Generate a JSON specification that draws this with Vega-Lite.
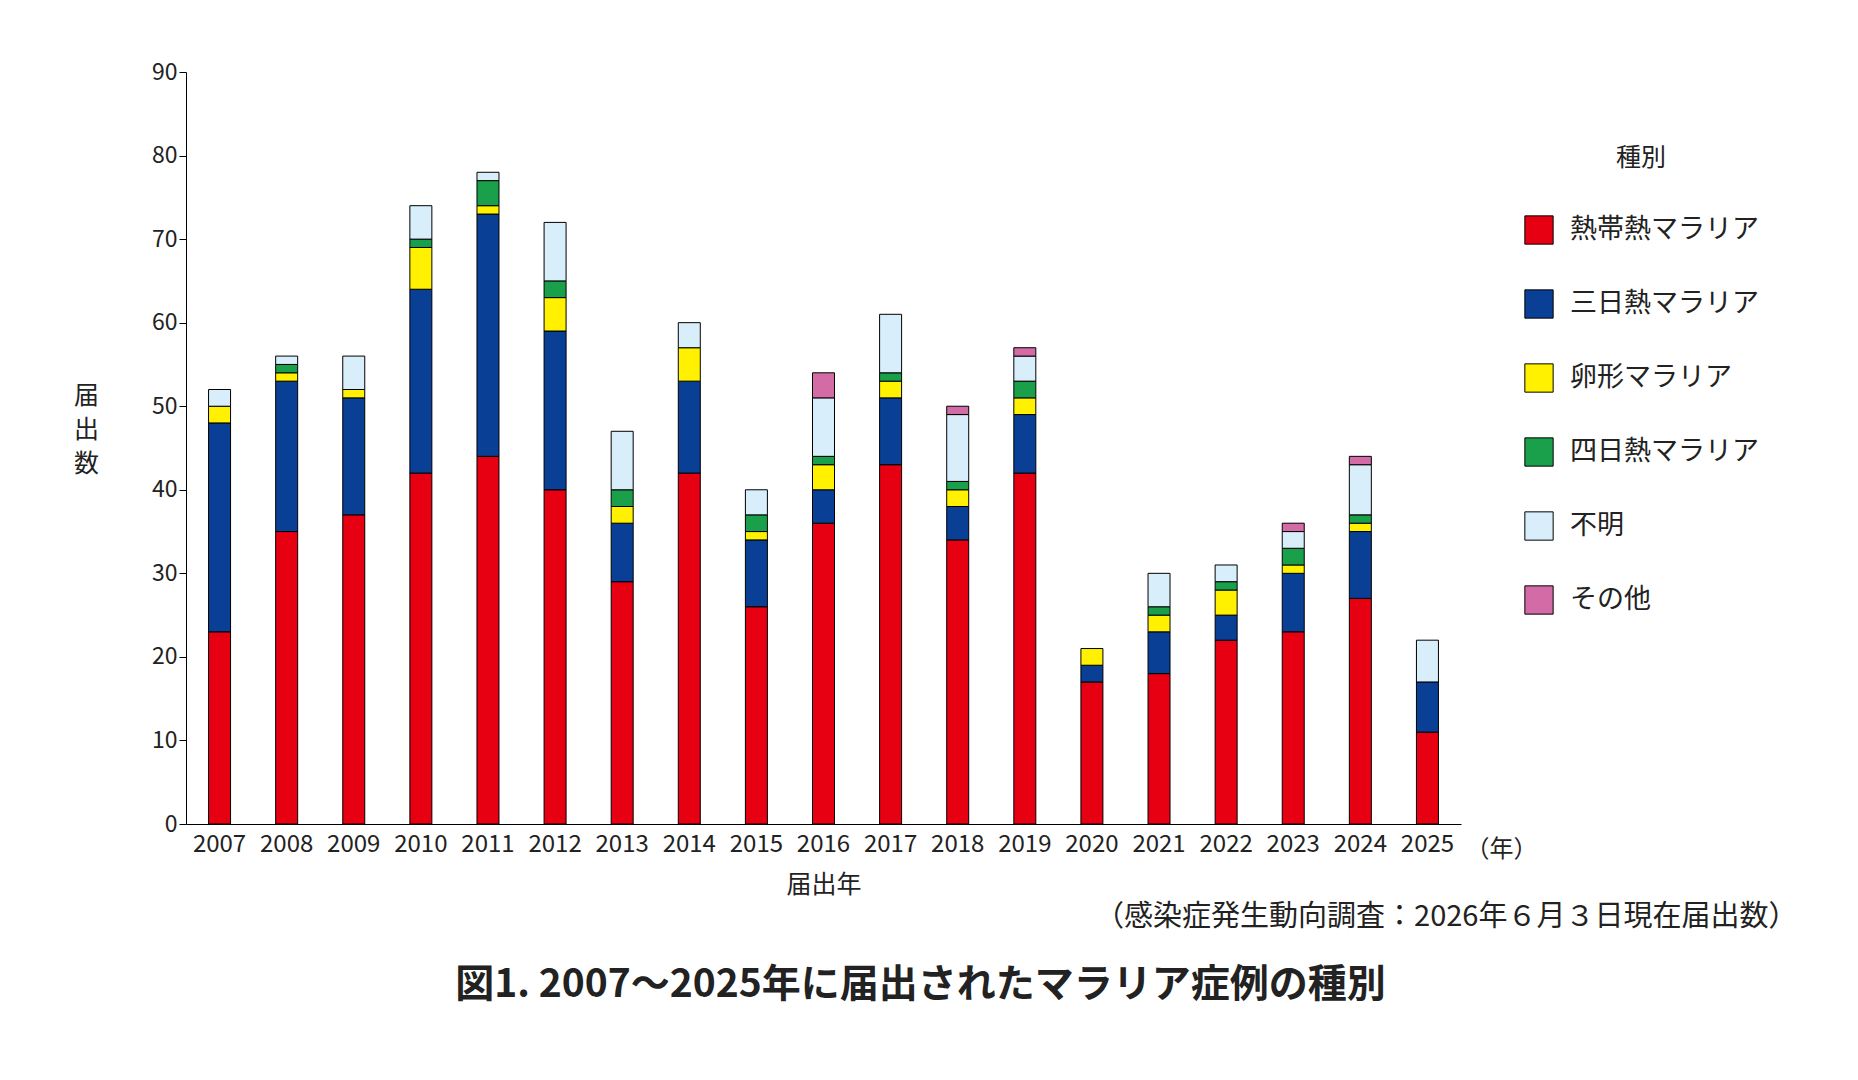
{
"$schema":"https://vega.github.io/schema/vega-lite/v6.json",
"autosize":{"type":"none"},
"padding":{"left":186,"top":72,"right":397,"bottom":256},
"width":1275,"height":752,
"background":"white",
"config":{"font":"Noto Sans CJK JP","view":{"stroke":null}},
"title":{"text":"図1. 2007～2025年に届出されたマラリア症例の種別","orient":"bottom","anchor":"middle","fontSize":39,"fontWeight":"bold","offset":34,"dx":97,"color":"#222"},
"datasets":{"d":[
{"y":"2007","t":"熱帯熱マラリア","k":1,"v":23},{"y":"2007","t":"三日熱マラリア","k":2,"v":25},{"y":"2007","t":"卵形マラリア","k":3,"v":2},{"y":"2007","t":"不明","k":5,"v":2},
{"y":"2008","t":"熱帯熱マラリア","k":1,"v":35},{"y":"2008","t":"三日熱マラリア","k":2,"v":18},{"y":"2008","t":"卵形マラリア","k":3,"v":1},{"y":"2008","t":"四日熱マラリア","k":4,"v":1},{"y":"2008","t":"不明","k":5,"v":1},
{"y":"2009","t":"熱帯熱マラリア","k":1,"v":37},{"y":"2009","t":"三日熱マラリア","k":2,"v":14},{"y":"2009","t":"卵形マラリア","k":3,"v":1},{"y":"2009","t":"不明","k":5,"v":4},
{"y":"2010","t":"熱帯熱マラリア","k":1,"v":42},{"y":"2010","t":"三日熱マラリア","k":2,"v":22},{"y":"2010","t":"卵形マラリア","k":3,"v":5},{"y":"2010","t":"四日熱マラリア","k":4,"v":1},{"y":"2010","t":"不明","k":5,"v":4},
{"y":"2011","t":"熱帯熱マラリア","k":1,"v":44},{"y":"2011","t":"三日熱マラリア","k":2,"v":29},{"y":"2011","t":"卵形マラリア","k":3,"v":1},{"y":"2011","t":"四日熱マラリア","k":4,"v":3},{"y":"2011","t":"不明","k":5,"v":1},
{"y":"2012","t":"熱帯熱マラリア","k":1,"v":40},{"y":"2012","t":"三日熱マラリア","k":2,"v":19},{"y":"2012","t":"卵形マラリア","k":3,"v":4},{"y":"2012","t":"四日熱マラリア","k":4,"v":2},{"y":"2012","t":"不明","k":5,"v":7},
{"y":"2013","t":"熱帯熱マラリア","k":1,"v":29},{"y":"2013","t":"三日熱マラリア","k":2,"v":7},{"y":"2013","t":"卵形マラリア","k":3,"v":2},{"y":"2013","t":"四日熱マラリア","k":4,"v":2},{"y":"2013","t":"不明","k":5,"v":7},
{"y":"2014","t":"熱帯熱マラリア","k":1,"v":42},{"y":"2014","t":"三日熱マラリア","k":2,"v":11},{"y":"2014","t":"卵形マラリア","k":3,"v":4},{"y":"2014","t":"不明","k":5,"v":3},
{"y":"2015","t":"熱帯熱マラリア","k":1,"v":26},{"y":"2015","t":"三日熱マラリア","k":2,"v":8},{"y":"2015","t":"卵形マラリア","k":3,"v":1},{"y":"2015","t":"四日熱マラリア","k":4,"v":2},{"y":"2015","t":"不明","k":5,"v":3},
{"y":"2016","t":"熱帯熱マラリア","k":1,"v":36},{"y":"2016","t":"三日熱マラリア","k":2,"v":4},{"y":"2016","t":"卵形マラリア","k":3,"v":3},{"y":"2016","t":"四日熱マラリア","k":4,"v":1},{"y":"2016","t":"不明","k":5,"v":7},{"y":"2016","t":"その他","k":6,"v":3},
{"y":"2017","t":"熱帯熱マラリア","k":1,"v":43},{"y":"2017","t":"三日熱マラリア","k":2,"v":8},{"y":"2017","t":"卵形マラリア","k":3,"v":2},{"y":"2017","t":"四日熱マラリア","k":4,"v":1},{"y":"2017","t":"不明","k":5,"v":7},
{"y":"2018","t":"熱帯熱マラリア","k":1,"v":34},{"y":"2018","t":"三日熱マラリア","k":2,"v":4},{"y":"2018","t":"卵形マラリア","k":3,"v":2},{"y":"2018","t":"四日熱マラリア","k":4,"v":1},{"y":"2018","t":"不明","k":5,"v":8},{"y":"2018","t":"その他","k":6,"v":1},
{"y":"2019","t":"熱帯熱マラリア","k":1,"v":42},{"y":"2019","t":"三日熱マラリア","k":2,"v":7},{"y":"2019","t":"卵形マラリア","k":3,"v":2},{"y":"2019","t":"四日熱マラリア","k":4,"v":2},{"y":"2019","t":"不明","k":5,"v":3},{"y":"2019","t":"その他","k":6,"v":1},
{"y":"2020","t":"熱帯熱マラリア","k":1,"v":17},{"y":"2020","t":"三日熱マラリア","k":2,"v":2},{"y":"2020","t":"卵形マラリア","k":3,"v":2},
{"y":"2021","t":"熱帯熱マラリア","k":1,"v":18},{"y":"2021","t":"三日熱マラリア","k":2,"v":5},{"y":"2021","t":"卵形マラリア","k":3,"v":2},{"y":"2021","t":"四日熱マラリア","k":4,"v":1},{"y":"2021","t":"不明","k":5,"v":4},
{"y":"2022","t":"熱帯熱マラリア","k":1,"v":22},{"y":"2022","t":"三日熱マラリア","k":2,"v":3},{"y":"2022","t":"卵形マラリア","k":3,"v":3},{"y":"2022","t":"四日熱マラリア","k":4,"v":1},{"y":"2022","t":"不明","k":5,"v":2},
{"y":"2023","t":"熱帯熱マラリア","k":1,"v":23},{"y":"2023","t":"三日熱マラリア","k":2,"v":7},{"y":"2023","t":"卵形マラリア","k":3,"v":1},{"y":"2023","t":"四日熱マラリア","k":4,"v":2},{"y":"2023","t":"不明","k":5,"v":2},{"y":"2023","t":"その他","k":6,"v":1},
{"y":"2024","t":"熱帯熱マラリア","k":1,"v":27},{"y":"2024","t":"三日熱マラリア","k":2,"v":8},{"y":"2024","t":"卵形マラリア","k":3,"v":1},{"y":"2024","t":"四日熱マラリア","k":4,"v":1},{"y":"2024","t":"不明","k":5,"v":6},{"y":"2024","t":"その他","k":6,"v":1},
{"y":"2025","t":"熱帯熱マラリア","k":1,"v":11},{"y":"2025","t":"三日熱マラリア","k":2,"v":6},{"y":"2025","t":"不明","k":5,"v":5}
]},
"layer":[
{"data":{"name":"d"},"mark":{"type":"bar","width":22,"stroke":"black","strokeWidth":1},
"encoding":{
"x":{"field":"y","type":"ordinal","title":"届出年","scale":{"paddingInner":0.5,"paddingOuter":0.25},
"axis":{"labelAngle":0,"labelFontSize":24,"labelColor":"#222","titleFontSize":25,"titleFontWeight":"normal","titleColor":"#222","ticks":false,"domainColor":"black","labelPadding":8,"titlePadding":16}},
"y":{"aggregate":"sum","field":"v","type":"quantitative","stack":"zero","scale":{"domain":[0,90]},
"axis":{"values":[0,10,20,30,40,50,60,70,80,90],"grid":false,"labelFontSize":23,"labelColor":"#222","domainColor":"black","tickColor":"black","tickSize":7,
"title":["届","出","数"],"titleAngle":0,"titleFontSize":25,"titleFontWeight":"normal","titleColor":"#222","titleX":-100,"titleY":336,"titleLineHeight":34}},
"color":{"field":"t","type":"nominal","title":"種別",
"scale":{"domain":["熱帯熱マラリア","三日熱マラリア","卵形マラリア","四日熱マラリア","不明","その他"],"range":["#E60012","#0A3F96","#FFF100","#1AA04A","#D8EEFA","#D36BA6"]},
"legend":{"orient":"none","legendX":1338,"legendY":74,"titleFontSize":25,"titleFontWeight":"normal","titleColor":"#222","titlePadding":44,"titleAnchor":"middle","labelFontSize":27,"labelColor":"#222","labelLimit":0,"symbolType":"square","symbolSize":800,"symbolStrokeColor":"black","symbolStrokeWidth":1,"rowPadding":40,"labelOffset":16}},
"order":{"field":"k","type":"quantitative"}}},
{"data":{"values":[{"s":"（年）"}]},"mark":{"type":"text","fontSize":24,"color":"#222","dx":74,"dy":26,"baseline":"middle"},
"encoding":{"x":{"datum":"2025","type":"ordinal"},"y":{"datum":0,"type":"quantitative"},"text":{"field":"s"}}},
{"data":{"values":[{"s":"（感染症発生動向調査：2026年６月３日現在届出数）"}]},"mark":{"type":"text","fontSize":29,"color":"#222","align":"right","dx":370,"dy":93,"baseline":"middle"},
"encoding":{"x":{"datum":"2025","type":"ordinal"},"y":{"datum":0,"type":"quantitative"},"text":{"field":"s"}}}
]
}
